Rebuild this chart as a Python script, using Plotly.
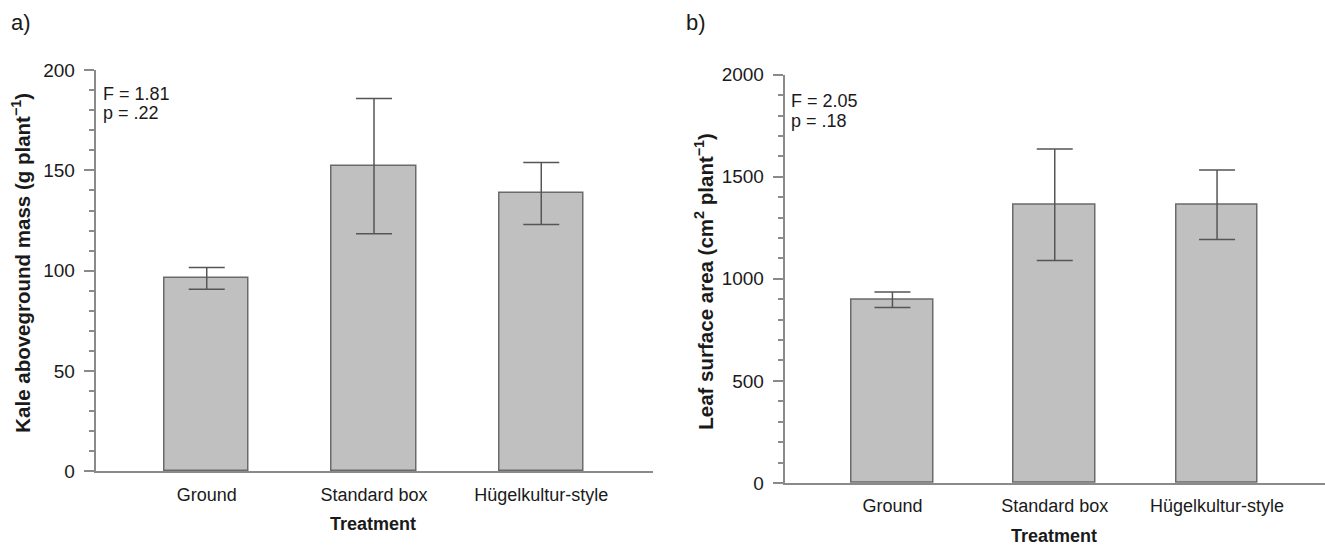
import plotly.graph_objects as go

categories = ["Ground", "Standard box", "Hügelkultur-style"]
mass_mean = [96.2, 152.1, 138.5]
mass_se = [5.4, 33.7, 15.4]
area_mean = [898, 1363, 1363]
area_se = [38, 273, 170]
mass_ticks = [0, 50, 100, 150, 200]
area_ticks = [0, 500, 1000, 1500, 2000]

W, H = 1325, 548
FONT = "Liberation Sans, Arial, sans-serif"
BAR_FILL = "#c0c0c0"
BAR_LINE = "#6a6a6a"
AXIS_COL = "#8a8a8a"
TXT = "#1a1a1a"


def py(t):
    # target pixel row -> paper fraction (calibrated against the rendered output)
    return 1 - ((t - 9.9) / 0.963) / H


fig = go.Figure()
fig.add_trace(go.Bar(
    x=categories, y=mass_mean, width=0.504,
    marker=dict(color=BAR_FILL, line=dict(color=BAR_LINE, width=1.5)),
    error_y=dict(type="data", array=mass_se, color="#555555", thickness=1.5, width=18),
    xaxis="x", yaxis="y", showlegend=False))
fig.add_trace(go.Bar(
    x=categories, y=area_mean, width=0.504,
    marker=dict(color=BAR_FILL, line=dict(color=BAR_LINE, width=1.5)),
    error_y=dict(type="data", array=area_se, color="#555555", thickness=1.5, width=18),
    xaxis="x2", yaxis="y2", showlegend=False))

xcommon = dict(showline=True, linecolor=AXIS_COL, linewidth=1.5, ticks="", showgrid=False,
               zeroline=False, range=[-0.665, 2.665], ticklabelstandoff=6,
               tickfont=dict(family=FONT, size=18, color=TXT))
ycommon = dict(showline=True, linecolor=AXIS_COL, linewidth=1.5, ticks="outside", ticklen=10,
               tickcolor=AXIS_COL, tickwidth=1.5, showgrid=False, zeroline=False,
               ticklabelstandoff=5, tickfont=dict(family=FONT, size=19, color=TXT))

fig.update_layout(
    width=W, height=H, margin=dict(l=0, r=0, t=0, b=0),
    paper_bgcolor="white", plot_bgcolor="white", bargap=0,
    xaxis=dict(domain=[95.5 / W, 652.5 / W], anchor="y", **xcommon),
    yaxis=dict(domain=[py(472), py(70)], anchor="x", range=[0, 200],
               tickvals=mass_ticks,
               minor=dict(dtick=10, ticks="outside", ticklen=5, tickcolor=AXIS_COL, tickwidth=1.5),
               **ycommon),
    xaxis2=dict(domain=[784.5 / W, 1.0], anchor="y2", **xcommon),
    yaxis2=dict(domain=[py(483.5), py(74.7)], anchor="x2", range=[0, 2000],
                tickvals=area_ticks,
                minor=dict(dtick=100, ticks="outside", ticklen=5, tickcolor=AXIS_COL, tickwidth=1.5),
                **ycommon),
)


def ann(text, x, y, size=18, bold=False, angle=0, xanchor="center", yanchor="middle"):
    if bold:
        text = "<b>" + text + "</b>"
    fig.add_annotation(text=text, x=x / W, y=py(y), xref="paper", yref="paper",
                       showarrow=False, textangle=angle, xanchor=xanchor, yanchor=yanchor,
                       font=dict(family=FONT, size=size, color=TXT))


# panel letters
ann("a)", 9, 22, size=22, xanchor="left")
ann("b)", 684, 22, size=22, xanchor="left")
# statistics
ann("F = 1.81", 101, 94, xanchor="left")
ann("p = .22", 101, 113, xanchor="left")
ann("F = 2.05", 789, 101, xanchor="left")
ann("p = .18", 789, 121, xanchor="left")
# axis titles
ann("Treatment", 373, 525, bold=True)
ann("Treatment", 1054, 537, bold=True)
ann("Kale aboveground mass (g plant<sup>−1</sup>)", 21, 263, size=20.5, bold=True, angle=-90)
ann("Leaf surface area (cm<sup>2</sup> plant<sup>−1</sup>)", 704, 282, size=20.5, bold=True, angle=-90)

fig.write_html("out.html", config={"displayModeBar": False},
               post_script="document.body.style.margin='0';document.body.style.overflow='hidden';")
